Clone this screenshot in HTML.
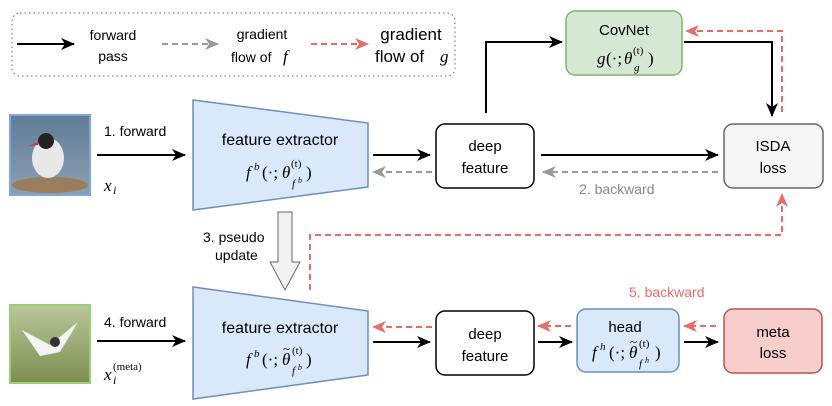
<!DOCTYPE html>
<html><head><meta charset="utf-8"><style>
body{margin:0;background:#fff}
svg{display:block;font-family:"Liberation Sans",sans-serif}
.m{font-family:"Liberation Serif",serif;font-style:italic}
.n{font-family:"Liberation Serif",serif}
</style></head><body>
<svg width="832" height="406" viewBox="0 0 832 406" xmlns="http://www.w3.org/2000/svg">
<defs>
<marker id="ak" markerWidth="14" markerHeight="12" refX="13" refY="6" orient="auto" markerUnits="userSpaceOnUse"><path d="M0,0 L14,6 L0,12 L4,6 z" fill="#000"/></marker>
<marker id="ag" markerWidth="14" markerHeight="12" refX="13" refY="6" orient="auto" markerUnits="userSpaceOnUse"><path d="M0,0 L14,6 L0,12 L4,6 z" fill="#999"/></marker>
<marker id="ar" markerWidth="14" markerHeight="12" refX="13" refY="6" orient="auto" markerUnits="userSpaceOnUse"><path d="M0,0 L14,6 L0,12 L4,6 z" fill="#ea6b66"/></marker>
<linearGradient id="sky" x1="0" y1="0" x2="0" y2="1"><stop offset="0" stop-color="#5f7d98"/><stop offset="1" stop-color="#8aa0b0"/></linearGradient>
<linearGradient id="grass" x1="0" y1="0" x2="0" y2="1"><stop offset="0" stop-color="#b8c79a"/><stop offset="1" stop-color="#7c8f4f"/></linearGradient>
</defs>
<!-- legend -->
<rect x="12" y="13" width="443" height="63" rx="8" fill="none" stroke="#666" stroke-dasharray="1.5,3"/>
<line x1="17" y1="44" x2="74" y2="44" stroke="#000" stroke-width="2" marker-end="url(#ak)"/>
<text x="113" y="40" font-size="14" text-anchor="middle">forward</text>
<text x="113" y="61" font-size="14" text-anchor="middle">pass</text>
<line x1="162" y1="44" x2="218" y2="44" stroke="#999" stroke-width="2" stroke-dasharray="6,4" marker-end="url(#ag)"/>
<text x="262" y="39" font-size="14" text-anchor="middle">gradient</text>
<text x="231" y="62" font-size="14">flow of</text><text x="283" y="62" font-size="17" class="m">f</text>
<line x1="311" y1="44" x2="368" y2="44" stroke="#ea6b66" stroke-width="2" stroke-dasharray="6,4" marker-end="url(#ar)"/>
<text x="411" y="40" font-size="17" text-anchor="middle">gradient</text>
<text x="375" y="62" font-size="17">flow of</text><text x="440" y="62" font-size="17" class="m">g</text>
<!-- bird 1 -->
<rect x="10" y="115" width="80" height="80" fill="url(#sky)" stroke="#7ea6e0" stroke-width="2"/>
<ellipse cx="50" cy="185" rx="38" ry="8" fill="#9a7d5c"/>
<ellipse cx="48" cy="158" rx="16" ry="20" fill="#e8e8e8"/>
<circle cx="46" cy="141" r="8" fill="#222"/>
<path d="M38,142 L28,146 L38,145z" fill="#d33"/>
<!-- row 1 -->
<line x1="97" y1="155" x2="185" y2="155" stroke="#000" stroke-width="2" marker-end="url(#ak)"/>
<text x="104" y="136" font-size="14">1. forward</text>
<text x="104" y="191" font-size="17" class="m">x</text><text x="113" y="194" font-size="12" class="m">i</text>
<polygon points="193,100 368,123 368,187 193,210" fill="#dae8fc" stroke="#6c8ebf" stroke-width="1.5"/>
<text x="280" y="145" font-size="16" text-anchor="middle">feature extractor</text>
<g font-size="17">
<text x="246" y="178" class="m">f</text><text x="254" y="170" font-size="11" class="m">b</text>
<text x="262" y="178" class="n">(·;</text><text x="282" y="178" class="m">θ</text>
<text x="291" y="167" font-size="11" class="n">(t)</text><text x="292" y="187" font-size="11" class="m">f</text><text x="298" y="183" font-size="8" class="m">b</text>
<text x="306" y="178" class="n">)</text>
</g>
<rect x="436" y="124" width="98" height="64" rx="9" fill="#fff" stroke="#000" stroke-width="1.5"/>
<text x="485" y="151" font-size="15" text-anchor="middle">deep</text>
<text x="485" y="173" font-size="15" text-anchor="middle">feature</text>
<line x1="373" y1="155" x2="430" y2="155" stroke="#000" stroke-width="2" marker-end="url(#ak)"/>
<line x1="432" y1="172" x2="373" y2="172" stroke="#999" stroke-width="2" stroke-dasharray="6,4" marker-end="url(#ag)"/>
<rect x="724" y="124" width="99" height="64" rx="9" fill="#f5f5f5" stroke="#666" stroke-width="1.5"/>
<text x="773" y="151" font-size="15" text-anchor="middle">ISDA</text>
<text x="773" y="173" font-size="15" text-anchor="middle">loss</text>
<line x1="541" y1="155" x2="718" y2="155" stroke="#000" stroke-width="2" marker-end="url(#ak)"/>
<line x1="718" y1="172" x2="543" y2="172" stroke="#999" stroke-width="2" stroke-dasharray="6,4" marker-end="url(#ag)"/>
<text x="579" y="194" font-size="14" fill="#888">2. backward</text>
<rect x="566" y="11" width="116" height="64" rx="9" fill="#d5e8d4" stroke="#82b366" stroke-width="1.5"/>
<text x="624" y="35" font-size="15" text-anchor="middle">CovNet</text>
<g font-size="17">
<text x="597" y="64" class="m">g</text><text x="606" y="64" class="n">(·;</text><text x="624" y="64" class="m">θ</text>
<text x="633" y="54" font-size="11" class="n">(t)</text><text x="634" y="71" font-size="11" class="m">g</text>
<text x="648" y="64" class="n">)</text>
</g>
<polyline points="486,113 486,42 562,42" fill="none" stroke="#000" stroke-width="2" marker-end="url(#ak)"/>
<polyline points="684,42 772,42 772,116" fill="none" stroke="#000" stroke-width="2" marker-end="url(#ak)"/>
<polyline points="782,112 782,31 686,31" fill="none" stroke="#ea6b66" stroke-width="2" stroke-dasharray="6,4" marker-end="url(#ar)"/>
<!-- pseudo update -->
<polygon points="278,212 292,212 292,262 300,262 285,290 270,262 278,262" fill="#f2f2f2" stroke="#666" stroke-width="1"/>
<text x="203" y="242" font-size="14">3. pseudo</text>
<text x="215" y="260" font-size="14">update</text>
<polyline points="310,290 310,235 782,235 782,194" fill="none" stroke="#ea6b66" stroke-width="2" stroke-dasharray="6,4" marker-end="url(#ar)"/>
<!-- bird 2 -->
<rect x="10" y="305" width="80" height="78" fill="url(#grass)" stroke="#97d077" stroke-width="2"/>
<path d="M22,330 L50,345 L78,322 L60,352 L40,356z" fill="#f4f4f4"/>
<circle cx="55" cy="342" r="5" fill="#333"/>
<!-- row 2 -->
<line x1="97" y1="341" x2="185" y2="341" stroke="#000" stroke-width="2" marker-end="url(#ak)"/>
<text x="104" y="327" font-size="14">4. forward</text>
<text x="104" y="380" font-size="17" class="m">x</text><text x="113" y="384" font-size="12" class="m">i</text><text x="113" y="370" font-size="11" class="n">(meta)</text>
<polygon points="193,287 368,311 368,375 193,399" fill="#dae8fc" stroke="#6c8ebf" stroke-width="1.5"/>
<text x="280" y="333" font-size="16" text-anchor="middle">feature extractor</text>
<g font-size="17">
<text x="246" y="365" class="m">f</text><text x="254" y="357" font-size="11" class="m">b</text>
<text x="262" y="365" class="n">(·;</text><text x="282" y="365" class="m">θ</text><text x="283" y="353" font-size="13" class="n">~</text>
<text x="292" y="354" font-size="11" class="n">(t)</text><text x="292" y="374" font-size="11" class="m">f</text><text x="298" y="370" font-size="8" class="m">b</text>
<text x="306" y="365" class="n">)</text>
</g>
<rect x="436" y="311" width="98" height="64" rx="9" fill="#fff" stroke="#000" stroke-width="1.5"/>
<text x="485" y="339" font-size="15" text-anchor="middle">deep</text>
<text x="485" y="361" font-size="15" text-anchor="middle">feature</text>
<line x1="373" y1="342" x2="430" y2="342" stroke="#000" stroke-width="2" marker-end="url(#ak)"/>
<line x1="432" y1="327" x2="373" y2="327" stroke="#ea6b66" stroke-width="2" stroke-dasharray="6,4" marker-end="url(#ar)"/>
<rect x="577" y="309" width="102" height="63" rx="9" fill="#dae8fc" stroke="#6c8ebf" stroke-width="1.5"/>
<text x="625" y="332" font-size="15" text-anchor="middle">head</text>
<g font-size="17">
<text x="592" y="358" class="m">f</text><text x="600" y="350" font-size="11" class="m">h</text>
<text x="609" y="358" class="n">(·;</text><text x="629" y="358" class="m">θ</text><text x="630" y="346" font-size="13" class="n">~</text>
<text x="639" y="347" font-size="11" class="n">(t)</text><text x="639" y="367" font-size="11" class="m">f</text><text x="645" y="363" font-size="8" class="m">h</text>
<text x="655" y="358" class="n">)</text>
</g>
<line x1="538" y1="342" x2="572" y2="342" stroke="#000" stroke-width="2" marker-end="url(#ak)"/>
<line x1="571" y1="326" x2="538" y2="326" stroke="#ea6b66" stroke-width="2" stroke-dasharray="6,4" marker-end="url(#ar)"/>
<rect x="724" y="309" width="98" height="64" rx="9" fill="#f8cecc" stroke="#b85450" stroke-width="1.5"/>
<text x="773" y="337" font-size="15" text-anchor="middle">meta</text>
<text x="773" y="358" font-size="15" text-anchor="middle">loss</text>
<line x1="684" y1="342" x2="718" y2="342" stroke="#000" stroke-width="2" marker-end="url(#ak)"/>
<line x1="716" y1="326" x2="684" y2="326" stroke="#ea6b66" stroke-width="2" stroke-dasharray="6,4" marker-end="url(#ar)"/>
<text x="629" y="297" font-size="14" fill="#ea6b66">5. backward</text>
</svg>
</body></html>
